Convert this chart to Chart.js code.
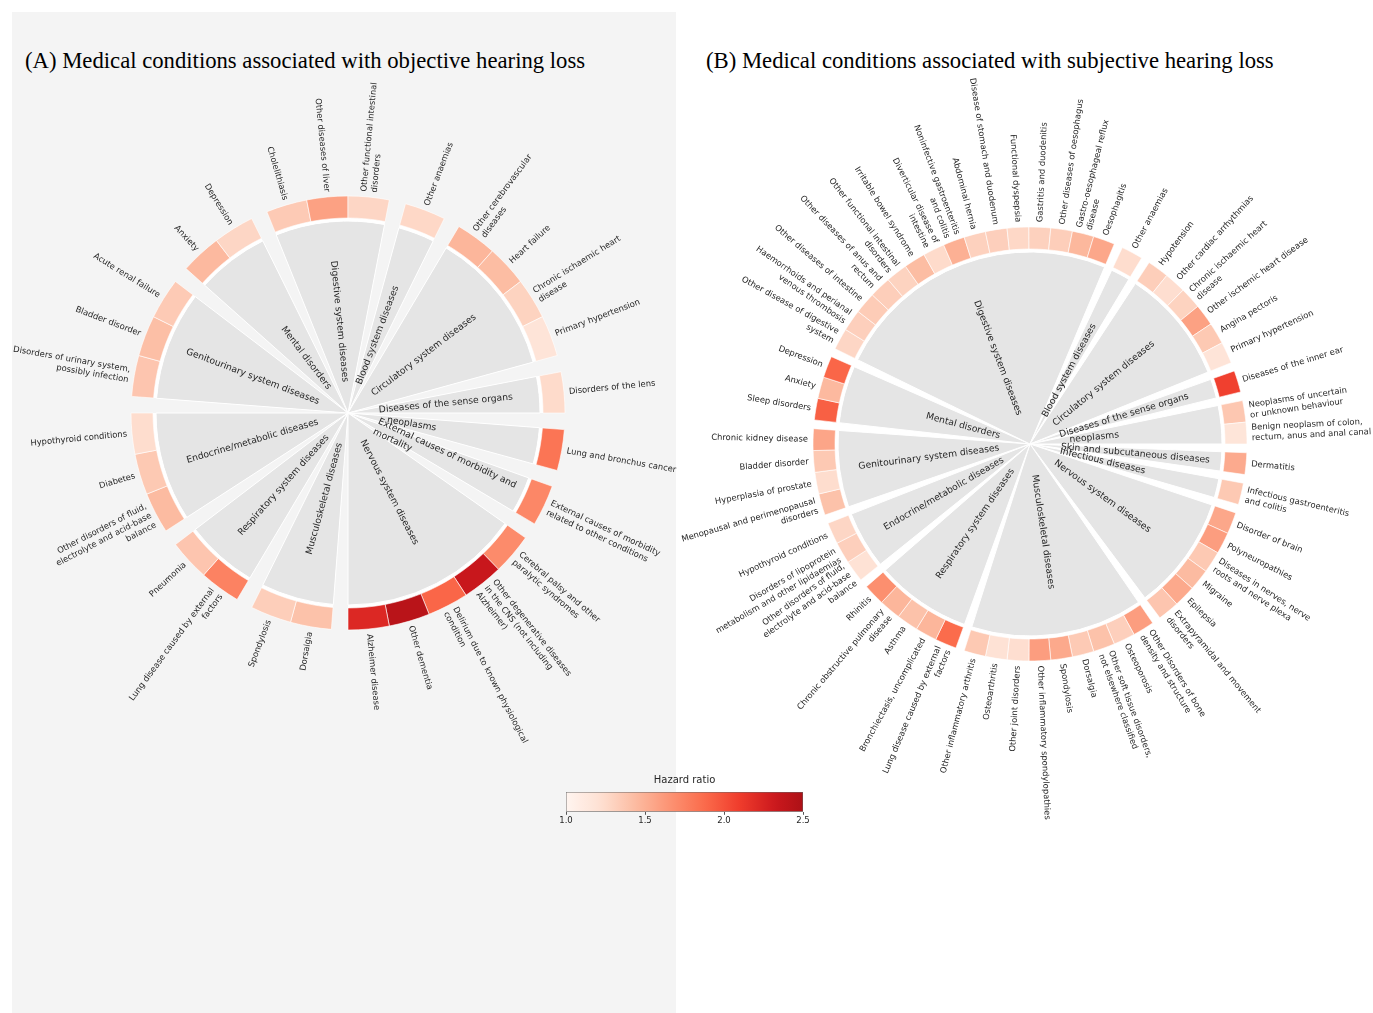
<!DOCTYPE html>
<html>
<head>
<meta charset="utf-8">
<title>Medical conditions associated with hearing loss</title>
<script src="https://cdn.jsdelivr.net/npm/chart.js@4.4.1/dist/chart.umd.min.js"></script>
<style>
  html, body { margin: 0; padding: 0; background: #ffffff; }
  #page { position: relative; width: 1373px; height: 1013px; overflow: hidden; }
  #panelA { position: absolute; left: 12px; top: 12px; width: 664px; height: 1001px; background: #f4f4f4; }
  .title { position: absolute; font-family: "Liberation Serif", "Times New Roman", serif; font-size: 22.7px; color: #000; white-space: nowrap; }
  .box { position: absolute; }
</style>
</head>
<body>
<div id="page">
  <div id="panelA"></div>
  <div class="title" style="left:25px; top:48px;">(A) Medical conditions associated with objective hearing loss</div>
  <div class="title" style="left:706px; top:48px;">(B) Medical conditions associated with subjective hearing loss</div>
  <div class="box" id="boxA" style="left:0px; top:40px; width:696px; height:746px;"><canvas id="chartA"></canvas></div>
  <div class="box" id="boxB" style="left:676px; top:60px; width:697px; height:790px;"><canvas id="chartB"></canvas></div>
  <div class="box" style="left:540px; top:768px; width:290px; height:62px;"><canvas id="hrScale"></canvas></div>
</div>
<script>
// ---- Panel A: objective hearing loss (groups listed counter-clockwise from 3 o'clock) ----
const groupsA = [
  'Diseases of the sense organs', 'Circulatory system diseases', 'Blood system diseases',
  'Digestive system diseases', 'Mental disorders', 'Genitourinary system diseases',
  'Endocrine/metabolic diseases', 'Respiratory system diseases', 'Musculoskeletal diseases',
  'Nervous system diseases', 'External causes of morbidity and\nmortality', '   neoplasms'
];
const countsA = [1, 4, 1, 3, 2, 3, 3, 2, 2, 5, 1, 1];
const conditionsA = [
  'Disorders of the lens',
  'Primary hypertension', 'Chronic ischaemic heart\ndisease', 'Heart failure', 'Other cerebrovascular\ndiseases',
  'Other anaemias',
  'Other functional intestinal\ndisorders', 'Other diseases of liver', 'Cholelithiasis',
  'Depression', 'Anxiety',
  'Acute renal failure', 'Bladder disorder', 'Disorders of urinary system,\npossibly infection',
  'Hypothyroid conditions', 'Diabetes', 'Other disorders of fluid,\nelectrolyte and acid-base\nbalance',
  'Pneumonia', 'Lung disease caused by external\nfactors',
  'Spondylosis', 'Dorsalgia',
  'Alzheimer disease', 'Other dementia', 'Delirium due to known physiological\ncondition',
  'Other degenerative diseases\nin the CNS (not including\nAlzheimer)', 'Cerebral palsy and other\nparalytic syndromes',
  'External causes of morbidity\nrelated to other conditions',
  'Lung and bronchus cancer'
];
const hazardA = [
  1.25,
  1.18, 1.30, 1.43, 1.47,
  1.27,
  1.28, 1.58, 1.35,
  1.28, 1.45,
  1.35, 1.42, 1.38,
  1.24, 1.36, 1.44,
  1.38, 1.75,
  1.33, 1.40,
  2.22, 2.43, 1.90, 2.34, 1.70,
  1.72,
  1.82
];

// ---- Panel B: subjective hearing loss ----
const groupsB = [
  '   neoplasms', 'Diseases of the sense organs', 'Circulatory system diseases', 'Blood system diseases',
  'Digestive system diseases', 'Mental disorders', 'Genitourinary system diseases',
  'Endocrine/metabolic diseases', 'Respiratory system diseases', 'Musculoskeletal diseases',
  'Nervous system diseases', 'Infectious diseases', 'Skin and subcutaneous diseases'
];
const countsB = [2, 1, 6, 1, 15, 3, 4, 3, 5, 9, 6, 1, 1];
const conditionsB = [
  'Benign neoplasm of colon,\nrectum, anus and anal canal', 'Neoplasms of uncertain\nor unknown behaviour',
  'Diseases of the inner ear',
  'Primary hypertension', 'Angina pectoris', 'Other ischemic heart disease', 'Chronic ischaemic heart\ndisease',
  'Other cardiac arrhythmias', 'Hypotension',
  'Other anaemias',
  'Oesophagitis', 'Gastro-oesophageal reflux\ndisease', 'Other diseases of oesophagus', 'Gastritis and duodenitis',
  'Functional dyspepsia', 'Disease of stomach and duodenum', 'Abdominal hernia',
  'Noninfective gastroenteritis\nand colitis', 'Diverticular disease of\nintestine', 'Irritable bowel syndrome',
  'Other functional intestinal\ndisorders', 'Other diseases of anus and\nrectum', 'Other diseases of intestine',
  'Haemorrhoids and perianal\nvenous thrombosis', 'Other disease of digestive\nsystem',
  'Depression', 'Anxiety', 'Sleep disorders',
  'Chronic kidney disease', 'Bladder disorder', 'Hyperplasia of prostate', 'Menopausal and perimenopausal\ndisorders',
  'Hypothyroid conditions', 'Disorders of lipoprotein\nmetabolism and other lipidaemias',
  'Other disorders of fluid,\nelectrolyte and acid-base\nbalance',
  'Rhinitis', 'Chronic obstructive pulmonary\ndisease', 'Asthma', 'Bronchiectasis, uncomplicated',
  'Lung disease caused by external\nfactors',
  'Other inflammatory arthritis', 'Osteoarthritis', 'Other joint disorders', 'Other inflammatory spondylopathies',
  'Spondylosis', 'Dorsalgia', 'Other soft tissue disorders,\nnot elsewhere classified', 'Osteoporosis',
  'Other Disorders of bone\ndensity and structure',
  'Extrapyramidal and movement\ndisorders', 'Epilepsia', 'Migraine', 'Diseases in nerves, nerve\nroots and nerve plexa',
  'Polyneuropathies', 'Disorder of brain',
  'Infectious gastroenteritis\nand colitis',
  'Dermatitis'
];
const hazardB = [
  1.17, 1.37,
  2.08,
  1.18, 1.36, 1.58, 1.30, 1.23, 1.33,
  1.24,
  1.55, 1.46, 1.33, 1.31, 1.27, 1.32, 1.31, 1.50, 1.25, 1.43, 1.30, 1.33, 1.34, 1.32, 1.28,
  1.90, 1.45, 1.93,
  1.56, 1.36, 1.24, 1.40,
  1.28, 1.32, 1.20,
  1.68, 1.47, 1.40, 1.47, 1.87,
  1.36, 1.20, 1.23, 1.60, 1.54, 1.35, 1.40, 1.32, 1.60,
  1.38, 1.54, 1.44, 1.36, 1.60, 1.55,
  1.36,
  1.53
];

// colour bar ticks
const hrTicks = [1.0, 1.5, 2.0, 2.5];

// ---------------------------------------------------------------
Chart.defaults.font.family = '"DejaVu Sans", sans-serif';

const GAP = 0.4;              // empty slot between groups, in condition widths
const REDS = [[255,245,240],[254,224,210],[252,187,161],[252,146,114],[251,106,74],
              [239,59,44],[203,24,29],[165,15,21],[103,0,13]];
const HR_MIN = hrTicks[0], HR_MAX = hrTicks[hrTicks.length - 1];

function hrColor(v) {
  const t = Math.min(Math.max((v - HR_MIN) / (HR_MAX - HR_MIN), 0), 1) * 0.85;
  const p = t * (REDS.length - 1);
  const i = Math.min(Math.floor(p), REDS.length - 2);
  const f = p - i;
  const a = REDS[i], b = REDS[i + 1];
  const c = a.map((x, k) => Math.round(x + (b[k] - x) * f));
  return `rgb(${c[0]},${c[1]},${c[2]})`;
}

// Build the ring slices counter-clockwise, then reverse them since Chart.js sweeps clockwise
function wheel(groups, counts, conditions, hazard) {
  const cells = [], sectors = [];
  let k = 0;
  counts.forEach((n, gi) => {
    for (let j = 0; j < n; j++) {
      cells.push({ v: 1, text: conditions[k], color: hrColor(hazard[k]) });
      k++;
    }
    cells.push({ v: GAP, gap: true });
    sectors.push({ v: n, text: groups[gi] });
    sectors.push({ v: GAP, gap: true });
  });
  cells.reverse();
  sectors.reverse();
  const clear = 'rgba(0,0,0,0)';
  return [
    { // condition cells
      data: cells.map(c => c.v),
      texts: cells.map(c => c.gap ? null : c.text),
      backgroundColor: cells.map(c => c.gap ? clear : c.color),
      borderColor: 'rgba(255,255,255,0.75)',
      borderWidth: cells.map(c => c.gap ? 0 : 0.8),
      weight: 22
    },
    { // thin white separator ring
      data: sectors.map(s => s.v),
      backgroundColor: sectors.map(s => s.gap ? clear : '#ffffff'),
      borderWidth: 0,
      weight: 3
    },
    { // grey group sectors
      data: sectors.map(s => s.v),
      texts: sectors.map(s => s.gap ? null : s.text),
      backgroundColor: sectors.map(s => s.gap ? clear : '#e5e5e5'),
      borderColor: '#ffffff',
      borderWidth: sectors.map(s => s.gap ? 0 : 1),
      weight: 192
    }
  ];
}

function drawRadial(ctx, cx, cy, a, r, text, font, lh) {
  const lines = text.split('\n');
  const outward = Math.cos(a) >= -1e-6;
  ctx.save();
  ctx.translate(cx + r * Math.cos(a), cy + r * Math.sin(a));
  ctx.rotate(outward ? a : a + Math.PI);
  ctx.font = font;
  ctx.fillStyle = '#262626';
  ctx.textAlign = outward ? 'left' : 'right';
  ctx.textBaseline = 'middle';
  lines.forEach((ln, i) => ctx.fillText(ln, 0, (i - (lines.length - 1) / 2) * lh));
  ctx.restore();
}

const wheelLabels = {
  id: 'wheelLabels',
  afterDatasetsDraw(chart) {
    const ctx = chart.ctx;
    const ds = chart.data.datasets;
    chart.getDatasetMeta(0).data.forEach((el, i) => {
      const t = ds[0].texts[i];
      if (!t) return;
      drawRadial(ctx, el.x, el.y, (el.startAngle + el.endAngle) / 2, el.outerRadius + 5,
                 t, '8.4px "DejaVu Sans"', 10.5);
    });
    chart.getDatasetMeta(2).data.forEach((el, i) => {
      const t = ds[2].texts[i];
      if (!t) return;
      drawRadial(ctx, el.x, el.y, (el.startAngle + el.endAngle) / 2, 31,
                 t, '9.2px "DejaVu Sans"', 11.5);
    });
  }
};

// padding that puts the doughnut centre at (cx, cy) inside a w x h box
function padFor(w, h, cx, cy) {
  return {
    left: Math.max(0, 2 * cx - w), right: Math.max(0, w - 2 * cx),
    top: Math.max(0, 2 * cy - h), bottom: Math.max(0, h - 2 * cy)
  };
}

function makeWheel(id, datasets, padding) {
  return new Chart(document.getElementById(id), {
    type: 'doughnut',
    data: { datasets },
    options: {
      responsive: true,
      maintainAspectRatio: false,
      animation: false,
      events: [],
      rotation: 90,
      cutout: 0,
      radius: 217,
      layout: { padding },
      plugins: { legend: { display: false }, tooltip: { enabled: false } }
    },
    plugins: [wheelLabels]
  });
}

makeWheel('chartA', wheel(groupsA, countsA, conditionsA, hazardA), padFor(696, 746, 348, 373));
makeWheel('chartB', wheel(groupsB, countsB, conditionsB, hazardB), padFor(697, 790, 354, 384));

// ---- colour bar ----
new Chart(document.getElementById('hrScale'), {
  type: 'bar',
  data: {
    labels: ['Hazard ratio'],
    datasets: [{
      data: [[HR_MIN, HR_MAX]],
      backgroundColor(context) {
        const chart = context.chart;
        const area = chart.chartArea;
        if (!area) return null;
        const x = chart.scales.x;
        const g = chart.ctx.createLinearGradient(x.getPixelForValue(HR_MIN), 0, x.getPixelForValue(HR_MAX), 0);
        for (let s = 0; s <= 30; s++) {
          const v = HR_MIN + (HR_MAX - HR_MIN) * s / 30;
          g.addColorStop(s / 30, hrColor(v));
        }
        return g;
      },
      borderColor: '#666666',
      borderWidth: 0.8,
      borderSkipped: false,
      barPercentage: 1,
      categoryPercentage: 1
    }]
  },
  options: {
    indexAxis: 'y',
    responsive: true,
    maintainAspectRatio: false,
    animation: false,
    events: [],
    layout: { padding: { left: 26, right: 27, top: 0, bottom: 3 } },
    plugins: {
      legend: { display: false },
      tooltip: { enabled: false },
      title: {
        display: true, text: 'Hazard ratio', color: '#262626',
        font: { family: '"DejaVu Sans"', size: 10, weight: 'normal' },
        padding: { top: 6, bottom: 6 }
      }
    },
    scales: {
      x: {
        type: 'linear', min: HR_MIN, max: HR_MAX,
        afterBuildTicks(axis) { axis.ticks = hrTicks.map(v => ({ value: v })); },
        ticks: { callback: v => Number(v).toFixed(1), color: '#262626', font: { size: 8.5 }, padding: 1, maxRotation: 0, autoSkip: false },
        grid: { display: true, drawOnChartArea: false, drawTicks: true, tickLength: 3, color: '#555555' },
        border: { display: false }
      },
      y: { display: false }
    }
  }
});
</script>
</body>
</html>
